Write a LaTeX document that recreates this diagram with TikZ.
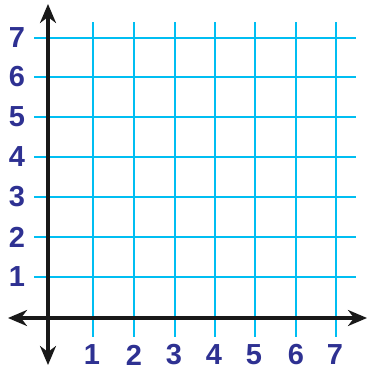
\documentclass[tikz,border=0pt]{standalone}
\usepackage{fontspec}
\setmainfont{Liberation Sans}
\usetikzlibrary{arrows.meta}
\definecolor{gridcyan}{RGB}{0,190,242}
\definecolor{labelblue}{RGB}{46,49,146}
\tikzset{
  gridline/.style={draw=gridcyan, line width=1.6pt},
  axisline/.style={draw=black!90, line width=3.8pt, -{Stealth[length=19pt,width=16pt,inset=6pt]}},
  numlabel/.style={text=labelblue, font=\fontsize{29}{29}\selectfont\bfseries, inner sep=0pt, anchor=center}
}
\begin{document}
\begin{tikzpicture}[x=1pt,y=-1pt]
\useasboundingbox (0,0) rectangle (367,370);
% vertical grid lines
\foreach \xx in {93,134,175,215,255,296,336}{
  \draw[gridline] (\xx,22) -- (\xx,337);
}
% horizontal grid lines
\foreach \yy in {38,77,117,157,197,237,277}{
  \draw[gridline] (34,\yy) -- (356,\yy);
}
% axes
\coordinate (ybot) at (48,365);
\coordinate (ytop) at (48,4);
\coordinate (xleft) at (8,318);
\coordinate (xright) at (367,318);
\coordinate (origin) at (48,318);
\draw[axisline] (origin) -- (ytop);
\draw[axisline] (origin) -- (ybot);
\draw[axisline] (origin) -- (xleft);
\draw[axisline] (origin) -- (xright);
% y labels
\node[numlabel] (y7) at (17,38) {7};
\node[numlabel] (y6) at (17,77) {6};
\node[numlabel] (y5) at (17,117) {5};
\node[numlabel] (y4) at (17,157) {4};
\node[numlabel] (y3) at (17,197) {3};
\node[numlabel] (y2) at (17,237) {2};
\node[numlabel] (y1) at (17,277) {1};
% x labels
\node[numlabel] (x1) at (92,355) {1};
\node[numlabel] (x2) at (134,355) {2};
\node[numlabel] (x3) at (174,355) {3};
\node[numlabel] (x4) at (214,355) {4};
\node[numlabel] (x5) at (254,355) {5};
\node[numlabel] (x6) at (296,355) {6};
\node[numlabel] (x7) at (335,355) {7};
\end{tikzpicture}
\end{document}
